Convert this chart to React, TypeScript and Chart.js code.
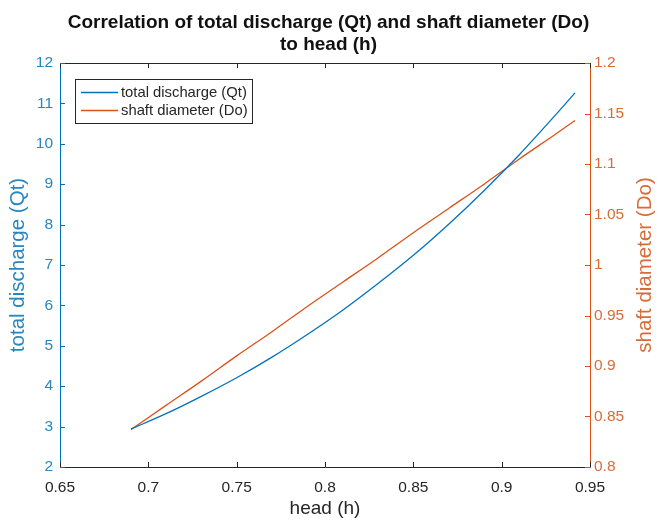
import React, { useEffect, useRef } from 'react';
import { Chart, registerables } from 'chart.js';

Chart.register(...registerables);

// ---- text ----
const TITLE_LINES = ['Correlation of total discharge (Qt) and shaft diameter (Do)', 'to head (h)'];
const X_LABEL = 'head (h)';
const LEFT_LABEL = 'total discharge (Qt)';
const RIGHT_LABEL = 'shaft diameter (Do)';
const SERIES_NAMES = ['total discharge (Qt)', 'shaft diameter (Do)'];

// ---- data ----
const head = [0.6902, 0.71, 0.73, 0.75, 0.77, 0.79, 0.81, 0.83, 0.85, 0.87, 0.89, 0.91, 0.93, 0.9415];
const totalDischarge = [2.94, 3.32, 3.75, 4.21, 4.72, 5.28, 5.88, 6.54, 7.24, 8.01, 8.84, 9.73, 10.69, 11.26];
const shaftDiameter = [0.837, 0.861, 0.885, 0.91, 0.934, 0.959, 0.983, 1.007, 1.032, 1.056, 1.08, 1.105, 1.129, 1.143];

// ---- axis ranges: [min, max, step] ----
const xRange = [0.65, 0.95, 0.05];
const leftRange = [2, 12, 1];
const rightRange = [0.8, 1.2, 0.05];

const FONT = "'Liberation Sans', Arial, Helvetica, sans-serif";
const BLUE = '#0072BD';
const ORANGE = '#D95319';
const BLUE_TEXT = '#2787c2';
const ORANGE_TEXT = '#d86c38';
const DARK = '#262626';

const fmt = (v: any) => String(parseFloat(Number(v).toFixed(4)));

const matlabLook = {
  id: 'matlabLook',
  afterDraw(chart: any) {
    const ctx = chart.ctx;
    const { left, right, top, bottom } = chart.chartArea;
    const xs = chart.scales.x;
    const yl = chart.scales.y;
    const yr = chart.scales.y1;
    const L = 5;
    const al = (v: number) => Math.round(v) + 0.5;
    ctx.save();
    ctx.lineWidth = 1;

    // top border + x ticks (top and bottom, inward)
    ctx.strokeStyle = DARK;
    ctx.beginPath();
    ctx.moveTo(Math.round(left), al(top));
    ctx.lineTo(Math.round(right) + 1, al(top));
    xs.ticks.forEach((t: any) => {
      const p = al(xs.getPixelForValue(t.value));
      ctx.moveTo(p, top);
      ctx.lineTo(p, top + L);
      ctx.moveTo(p, bottom);
      ctx.lineTo(p, bottom - L);
    });
    ctx.stroke();

    // left ticks
    ctx.strokeStyle = BLUE;
    ctx.beginPath();
    yl.ticks.forEach((t: any) => {
      const p = al(yl.getPixelForValue(t.value));
      ctx.moveTo(left, p);
      ctx.lineTo(left + L, p);
    });
    ctx.stroke();

    // right ticks
    ctx.strokeStyle = ORANGE;
    ctx.beginPath();
    yr.ticks.forEach((t: any) => {
      const p = al(yr.getPixelForValue(t.value));
      ctx.moveTo(right, p);
      ctx.lineTo(right - L, p);
    });
    ctx.stroke();

    // right axis title, reading bottom to top
    ctx.fillStyle = ORANGE_TEXT;
    ctx.font = `20.5px ${FONT}`;
    ctx.textAlign = 'center';
    ctx.textBaseline = 'middle';
    ctx.translate(645, (top + bottom) / 2);
    ctx.rotate(-Math.PI / 2);
    ctx.fillText(RIGHT_LABEL, 0, 0);
    ctx.setTransform(1, 0, 0, 1, 0, 0);

    // legend box
    const bx = 75.5, by = 79.5, bw = 177, bh = 44;
    ctx.fillStyle = '#ffffff';
    ctx.fillRect(bx, by, bw, bh);
    ctx.strokeStyle = DARK;
    ctx.lineWidth = 1;
    ctx.strokeRect(bx, by, bw, bh);
    ctx.font = `14.8px ${FONT}`;
    ctx.textAlign = 'left';
    ctx.textBaseline = 'middle';
    chart.data.datasets.forEach((ds: any, i: number) => {
      const yy = 92 + i * 18;
      ctx.strokeStyle = ds.borderColor;
      ctx.lineWidth = 1.3;
      ctx.beginPath();
      ctx.moveTo(81, yy + 0.5);
      ctx.lineTo(118, yy + 0.5);
      ctx.stroke();
      ctx.fillStyle = DARK;
      ctx.fillText(ds.label, 121, yy + 1);
    });
    ctx.restore();
  },
};

export default function App() {
  const ref = useRef<HTMLCanvasElement>(null);

  useEffect(() => {
    if (!ref.current) return;
    const chart = new Chart(ref.current, {
      type: 'scatter',
      data: {
        datasets: [
          {
            label: SERIES_NAMES[0],
            data: head.map((h, i) => ({ x: h, y: totalDischarge[i] })),
            borderColor: BLUE,
            backgroundColor: BLUE,
            showLine: true,
            pointRadius: 0,
            borderWidth: 1.3,
            cubicInterpolationMode: 'monotone',
            yAxisID: 'y',
          },
          {
            label: SERIES_NAMES[1],
            data: head.map((h, i) => ({ x: h, y: shaftDiameter[i] })),
            borderColor: ORANGE,
            backgroundColor: ORANGE,
            showLine: true,
            pointRadius: 0,
            borderWidth: 1.3,
            cubicInterpolationMode: 'monotone',
            yAxisID: 'y1',
          },
        ],
      },
      options: {
        responsive: false,
        animation: false,
        layout: { padding: 0 },
        plugins: {
          legend: { display: false },
          tooltip: { enabled: false },
          title: {
            display: true,
            text: TITLE_LINES,
            color: '#111111',
            font: { family: FONT, size: 19, weight: 'bold', lineHeight: '22px' },
            padding: { top: 12, bottom: 7 },
          },
        },
        scales: {
          x: {
            type: 'linear',
            position: 'bottom',
            min: xRange[0],
            max: xRange[1],
            ticks: { stepSize: xRange[2], color: DARK, padding: 11, font: { family: FONT, size: 15.5 }, callback: fmt },
            grid: { drawOnChartArea: false, drawTicks: false },
            border: { color: DARK, width: 1 },
            title: { display: true, text: X_LABEL, color: DARK, font: { family: FONT, size: 19 }, padding: { top: 0, bottom: 0 } },
            afterFit: (s: any) => { s.height = 53; },
          },
          y: {
            type: 'linear',
            position: 'left',
            min: leftRange[0],
            max: leftRange[1],
            ticks: { stepSize: leftRange[2], color: BLUE_TEXT, padding: 7, font: { family: FONT, size: 15.5 }, callback: fmt },
            grid: { drawOnChartArea: false, drawTicks: false },
            border: { color: BLUE, width: 1 },
            title: { display: true, text: LEFT_LABEL, color: BLUE_TEXT, font: { family: FONT, size: 20.5 }, padding: { top: 6, bottom: 0 } },
            afterFit: (s: any) => { s.width = 60; },
          },
          y1: {
            type: 'linear',
            position: 'right',
            min: rightRange[0],
            max: rightRange[1],
            ticks: { stepSize: rightRange[2], color: ORANGE_TEXT, padding: 4, font: { family: FONT, size: 15.5 }, callback: fmt },
            grid: { drawOnChartArea: false, drawTicks: false },
            border: { color: ORANGE, width: 1 },
            title: { display: false },
            afterFit: (s: any) => { s.width = 67; },
          },
        },
      },
      plugins: [matlabLook],
    } as any);
    return () => chart.destroy();
  }, []);

  return (
    <div style={{ position: 'fixed', left: 0, top: 0, width: 657, height: 520, background: '#ffffff' }}>
      <canvas ref={ref} width={657} height={520} style={{ display: 'block' }} />
    </div>
  );
}
